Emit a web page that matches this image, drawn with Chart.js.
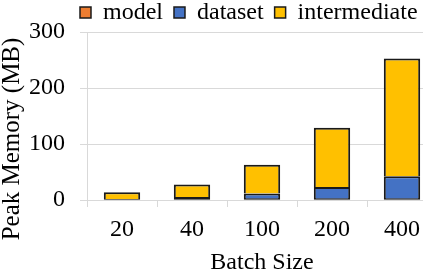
<!DOCTYPE html>
<html>
<head>
<meta charset="utf-8">
<script src="https://cdn.jsdelivr.net/npm/chart.js@4"></script>
<style>
  html, body { margin: 0; padding: 0; background: #fff; overflow: hidden; }
  #wrap { width: 423px; height: 272px; overflow: hidden; }
</style>
</head>
<body>
<div id="wrap"><canvas id="memChart" width="437" height="272"></canvas></div>
<script>
// batch sizes on the x axis
const batchSizes = ['20', '40', '100', '200', '400'];
// peak memory parts in MB
const modelMem = [0.3, 0.3, 0.3, 0.3, 0.3];
const datasetMem = [1.5, 5, 11.5, 23, 42];
const intermediateMem = [12, 22.5, 51, 105.5, 210.5];
const yTicks = [0, 100, 200, 300];

const serif = '"Liberation Serif", "Times New Roman", serif';
const gridGray = '#d9d9d9';

// legend sits left-ish and high up in the original, y title a bit low
const nudge = {
    id: 'nudge',
    afterLayout(chart) {
        const lg = chart.legend;
        const h = lg.bottom - lg.top;
        lg.left = 69;
        lg.right = 437;
        lg.top = -10.5;
        lg.bottom = lg.top + h;
    },
    beforeDraw(chart) {
        const s = chart.scales.y;
        if (!s._shifted) {
            const draw = s.drawTitle.bind(s);
            s.drawTitle = function () {
                const c = this.ctx;
                c.save();
                c.translate(0, 23);
                draw();
                c.restore();
            };
            s._shifted = true;
        }
    }
};

// stacked segments share one outline, so the upper one skips its bottom edge
const lowerEdge = { top: 2, left: 2, right: 2, bottom: 1.5 };
const upperEdge = { top: 2, left: 2, right: 2, bottom: 0 };

const ctx = document.getElementById('memChart').getContext('2d');
const memChart = new Chart(ctx, {
    type: 'bar',
    data: {
        labels: batchSizes,
        datasets: [
            { label: 'model', data: modelMem, backgroundColor: '#ED7D31', borderWidth: lowerEdge },
            { label: 'dataset', data: datasetMem, backgroundColor: '#4472C4', borderWidth: lowerEdge },
            { label: 'intermediate', data: intermediateMem, backgroundColor: '#FFC000', borderWidth: upperEdge }
        ].map(d => Object.assign(d, {
            borderColor: '#1a1a1a',
            borderSkipped: false,
            categoryPercentage: 1,
            barPercentage: 0.52
        }))
    },
    options: {
        responsive: false,
        animation: false,
        devicePixelRatio: 1,
        layout: { padding: 0 },
        plugins: {
            legend: {
                position: 'top',
                align: 'start',
                maxHeight: 32,
                labels: {
                    color: '#000',
                    font: { family: serif, size: 24 },
                    boxWidth: 11,
                    boxHeight: 11,
                    padding: 11,
                    generateLabels(chart) {
                        const items = Chart.defaults.plugins.legend.labels.generateLabels(chart);
                        items.forEach(it => { it.lineWidth = 1.5; });
                        return items;
                    }
                }
            },
            tooltip: { enabled: false }
        },
        scales: {
            x: {
                stacked: true,
                afterFit(scale) { scale.height = 72; },
                grid: {
                    drawOnChartArea: false,
                    drawTicks: true,
                    tickLength: 7,
                    color: gridGray
                },
                border: { color: gridGray },
                ticks: {
                    color: '#000',
                    font: { family: serif, size: 24 },
                    padding: 8
                },
                title: {
                    display: true,
                    text: 'Batch Size',
                    color: '#000',
                    font: { family: serif, size: 24, lineHeight: 1 },
                    padding: { top: 0, bottom: -3 }
                }
            },
            y: {
                stacked: true,
                min: 0,
                max: 300,
                afterFit(scale) { scale.width = 87; },
                afterBuildTicks(scale) { scale.ticks = yTicks.map(v => ({ value: v })); },
                grid: {
                    color: gridGray,
                    tickLength: 7
                },
                border: { color: gridGray },
                ticks: {
                    color: '#000',
                    font: { family: serif, size: 24 },
                    padding: 15
                },
                title: {
                    display: true,
                    text: 'Peak Memory (MB)',
                    color: '#000',
                    font: { family: serif, size: 25, lineHeight: 1 },
                    padding: 0
                }
            }
        }
    },
    plugins: [nudge]
});
</script>
</body>
</html>
